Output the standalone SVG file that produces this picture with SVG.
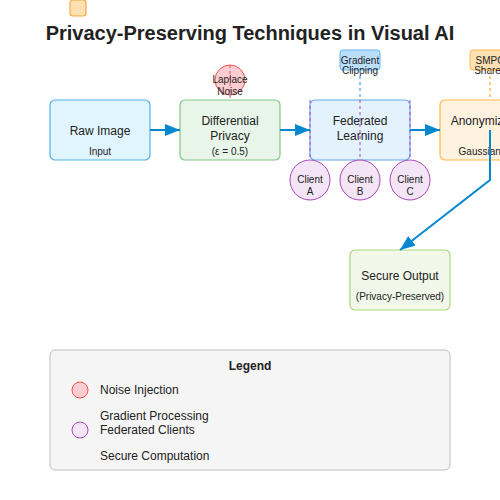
<svg xmlns="http://www.w3.org/2000/svg" width="500" height="500" viewBox="0 0 500 500">
<style>
text{font-family:"Liberation Sans",Arial,sans-serif;fill:#222;text-anchor:middle}
.t12{font-size:12px}
.t10{font-size:10px}
.box{stroke-width:1.2}
.conn{stroke:#0288d1;stroke-width:2;fill:none}
</style>
<defs>
<marker id="ah" markerUnits="userSpaceOnUse" markerWidth="16" markerHeight="12" refX="15" refY="6" orient="auto">
<path d="M0,0 L15,6 L0,12 Z" fill="#0288d1"/>
</marker>
</defs>
<rect x="50" y="0" width="450" height="0" fill="none"/>
<g id="orange-mark"><rect x="70" y="0" width="16" height="16" rx="3" fill="#ffe0b2" stroke="#f5a742" stroke-width="1.2"/></g>
<text x="250" y="40" style="font-size:20px;font-weight:bold" fill="#111">Privacy-Preserving Techniques in Visual AI</text>

<g id="raw-image">
<rect class="box" x="50" y="100" width="100" height="60" rx="5" fill="#e1f5fe" stroke="#4fb3e8"/>
<text class="t12" x="100" y="135">Raw Image</text>
<text class="t10" x="100" y="155">Input</text>
</g>
<g id="differential-privacy">
<rect class="box" x="180" y="100" width="100" height="60" rx="5" fill="#e8f5e9" stroke="#81c784"/>
<text class="t12" x="230" y="125">Differential</text>
<text class="t12" x="230" y="140">Privacy</text>
<text class="t10" x="230" y="155">(ε = 0.5)</text>
</g>
<g id="laplace-noise">
<circle cx="230" cy="80" r="15" fill="#ffcdd2" stroke="#ef5350" stroke-width="1"/>
<line x1="230" y1="65" x2="230" y2="100" stroke="#ef5350" stroke-width="1" stroke-dasharray="3,3"/>
<text class="t10" x="230" y="83">Laplace</text>
<text class="t10" x="230" y="95">Noise</text>
</g>
<g id="federated-learning">
<rect class="box" x="310" y="100" width="100" height="60" rx="5" fill="#e3f2fd" stroke="#64a8e8"/>
<text class="t12" x="360" y="125">Federated</text>
<text class="t12" x="360" y="140">Learning</text>
</g>
<g id="gradient-clipping">
<rect x="340" y="50" width="40" height="20" rx="3" fill="#bbdefb" stroke="#64b5f6" stroke-width="1"/>
<text class="t10" x="360" y="64">Gradient</text>
<text class="t10" x="360" y="74">Clipping</text>
</g>
<g id="anonymization">
<rect class="box" x="440" y="100" width="100" height="60" rx="5" fill="#fff3e0" stroke="#ffb74d"/>
<text class="t12" x="490" y="125">Anonymization</text>
<text class="t10" x="490" y="155">Gaussian Blur</text>
</g>
<g id="smpc-shares">
<rect x="470" y="50" width="40" height="20" rx="3" fill="#ffe0b2" stroke="#ffb74d" stroke-width="1"/>
<text class="t10" x="490" y="64">SMPC</text>
<text class="t10" x="490" y="74">Shares</text>
</g>
<g id="secure-output">
<rect class="box" x="350" y="250" width="100" height="60" rx="5" fill="#f1f8e9" stroke="#aed581"/>
<text class="t12" x="400" y="280">Secure Output</text>
<text class="t10" x="400" y="300">(Privacy-Preserved)</text>
</g>

<g id="connectors">
<line x1="360" y1="70" x2="360" y2="100" stroke="#64b5f6" stroke-width="1.5" stroke-dasharray="3,3"/>
<line x1="490" y1="70" x2="490" y2="100" stroke="#ffb74d" stroke-width="1.5" stroke-dasharray="3,3"/>
<line x1="310" y1="100" x2="310" y2="160" stroke="#ab47bc" stroke-width="1" stroke-dasharray="3,3"/>
<line x1="360" y1="100" x2="360" y2="160" stroke="#ab47bc" stroke-width="1" stroke-dasharray="3,3"/>
<line x1="410" y1="100" x2="410" y2="160" stroke="#ab47bc" stroke-width="1" stroke-dasharray="3,3"/>
<line class="conn" x1="150" y1="130" x2="180" y2="130" marker-end="url(#ah)"/>
<line class="conn" x1="280" y1="130" x2="310" y2="130" marker-end="url(#ah)"/>
<line class="conn" x1="410" y1="130" x2="440" y2="130" marker-end="url(#ah)"/>
<path class="conn" d="M490,130 L490,180 L400,250" marker-end="url(#ah)"/>
</g>

<g id="client-a">
<circle cx="310" cy="180" r="20" fill="#f3e5f5" stroke="#ab47bc" stroke-width="1"/>
<text class="t10" x="310" y="183">Client</text>
<text class="t10" x="310" y="195">A</text>
</g>
<g id="client-b">
<circle cx="360" cy="180" r="20" fill="#f3e5f5" stroke="#ab47bc" stroke-width="1"/>
<text class="t10" x="360" y="183">Client</text>
<text class="t10" x="360" y="195">B</text>
</g>
<g id="client-c">
<circle cx="410" cy="180" r="20" fill="#f3e5f5" stroke="#ab47bc" stroke-width="1"/>
<text class="t10" x="410" y="183">Client</text>
<text class="t10" x="410" y="195">C</text>
</g>

<g id="legend">
<rect x="50" y="350" width="400" height="120" rx="5" fill="#f5f5f5" stroke="#bdbdbd" stroke-width="1"/>
<text class="t12" x="250" y="370" style="font-weight:bold">Legend</text>
<circle cx="80" cy="390" r="8" fill="#ffcdd2" stroke="#ef5350" stroke-width="1"/>
<text class="t12" x="100" y="394" style="text-anchor:start">Noise Injection</text>
<text class="t12" x="100" y="420" style="text-anchor:start">Gradient Processing</text>
<circle cx="80" cy="430" r="8" fill="#f3e5f5" stroke="#ab47bc" stroke-width="1"/>
<text class="t12" x="100" y="434" style="text-anchor:start">Federated Clients</text>
<text class="t12" x="100" y="460" style="text-anchor:start">Secure Computation</text>
</g>
</svg>
